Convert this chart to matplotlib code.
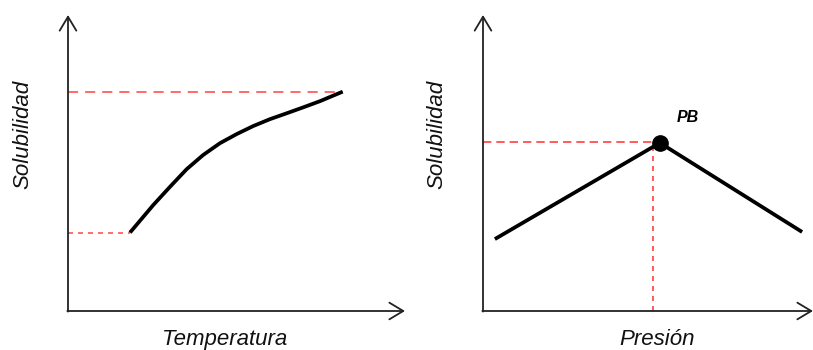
import matplotlib
matplotlib.use('Agg')
import matplotlib.pyplot as plt

# data (arbitrary 0-100 units)
temp = [18.4, 25.3, 30.3, 35.2, 40.1, 45.1, 50.1, 55.0, 59.9, 64.9, 69.8, 74.8, 81.5]
solub_t = [26.5, 35.8, 42.0, 47.9, 52.7, 56.7, 59.8, 62.5, 64.8, 66.8, 68.8, 70.9, 74.1]

pres = [3.6, 53.6, 96.7]
solub_p = [24.3, 56.8, 26.7]
pb_x, pb_y = 53.6, 56.8
pb_guide_x = 51.5
pb_guide_y = 57.1

W, H = 813, 350
plt.rcParams['font.family'] = ['Liberation Sans', 'DejaVu Sans']
fig = plt.figure(figsize=(W / 100, H / 100), dpi=100)


def box(left, right, top, bottom):
    return [left / W, 1 - bottom / H, (right - left) / W, (bottom - top) / H]


def px(x, y):
    return x / W, 1 - y / H


ax1 = fig.add_axes(box(68, 405, 15, 311))
ax2 = fig.add_axes(box(483, 813, 15, 311))

for ax in (ax1, ax2):
    ax.set_xlim(0, 100)
    ax.set_ylim(0, 100)
    for s in ax.spines.values():
        s.set_visible(False)
    ax.set_xticks([])
    ax.set_yticks([])
    ax.patch.set_alpha(0)
    arrow = dict(arrowstyle='->,head_length=1.0,head_width=0.6', color='#222222',
                 lw=1.3, mutation_scale=10, shrinkA=0, shrinkB=0)
    ax.annotate('', xy=(0, 1), xytext=(0, -0.002), xycoords='axes fraction',
                arrowprops=arrow, annotation_clip=False)
    ax.annotate('', xy=(1, 0), xytext=(-0.002, 0), xycoords='axes fraction',
                arrowprops=arrow, annotation_clip=False)

red = '#ff2a2a'
# left panel: temperature
ax1.plot([0, temp[-1]], [solub_t[-1], solub_t[-1]], color=red, lw=1.4,
         dashes=(5.2, 3.6), alpha=0.7)
ax1.plot([0, temp[0]], [solub_t[0], solub_t[0]], color=red, lw=1.2,
         dashes=(3, 3), alpha=0.8)
ax1.plot(temp, solub_t, color='black', lw=2.7, solid_capstyle='butt',
         solid_joinstyle='round')

# right panel: pressure
ax2.plot([0, pb_x], [pb_guide_y, pb_guide_y], color=red, lw=1.2, dashes=(5, 3), alpha=0.9)
ax2.plot([pb_guide_x, pb_guide_x], [0, pb_y], color=red, lw=1.2, dashes=(3, 3), alpha=0.9)
ax2.plot(pres, solub_p, color='black', lw=2.7, solid_capstyle='butt',
         solid_joinstyle='round')
ax2.plot([pb_x], [pb_y], 'o', color='black', ms=11, zorder=5)
ax2.annotate('PB', xy=(pb_x, pb_y), xytext=(28, 25), textcoords='offset pixels',
             fontsize=11.5, fontweight='bold', fontstyle='italic', ha='center', va='center')

lab = dict(fontsize=16, fontstyle='italic', color='#111111')
fig.text(*px(23, 134), 'Solubilidad', rotation=90, ha='center', va='center', **lab)
fig.text(*px(437, 134), 'Solubilidad', rotation=90, ha='center', va='center', **lab)
fig.text(*px(225, 345), 'Temperatura', ha='center', va='baseline', **lab)
fig.text(*px(657, 345), 'Presión', ha='center', va='baseline', **lab)

fig.savefig('out.png', dpi=100)
